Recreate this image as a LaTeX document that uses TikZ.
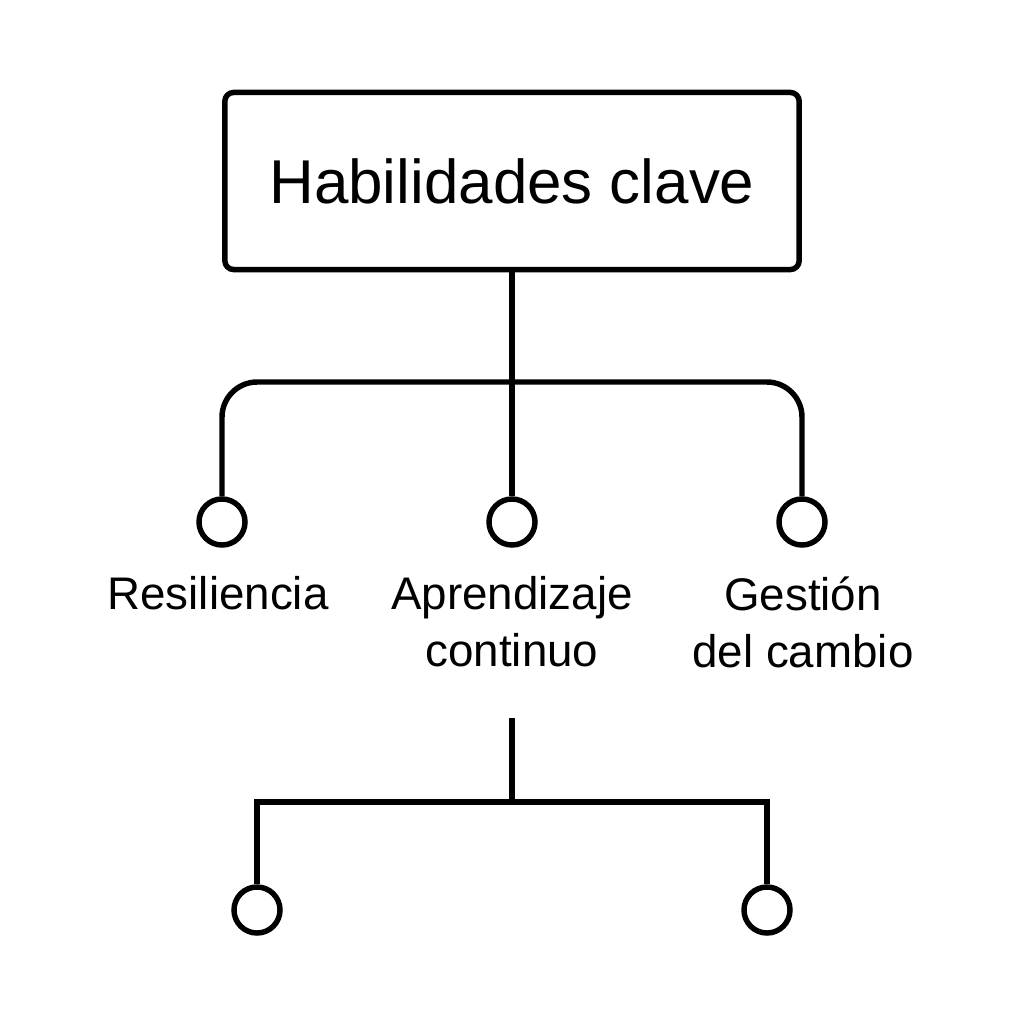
\documentclass[tikz,border=0pt]{standalone}
\usepackage{fontspec}
\setmainfont{Liberation Sans}
\usetikzlibrary{positioning}

\begin{document}
\begin{tikzpicture}[x=0.01cm, y=-0.01cm, line width=1.55pt,
    skillbox/.style={draw, rounded corners=2.5pt, minimum width=5.74cm, minimum height=1.77cm,
        font=\fontsize{17.6}{20}\selectfont},
    dot/.style={draw, circle, minimum size=0.46cm, inner sep=0pt},
    tag/.style={align=center, inner sep=0pt, anchor=north,
        font=\fontsize{13}{16.2}\selectfont}]
    \useasboundingbox (0,0) rectangle (1024,1024);

    % Top box
    \node[skillbox] (skills) at (512,181) {Habilidades clave};

    % First level
    \node[dot] (res) at (222,522) {};
    \node[dot] (apr) at (512,522) {};
    \node[dot] (ges) at (802,522) {};
    \coordinate (bar) at (512,382);
    \draw (skills) -- (apr);
    \draw[rounded corners=10pt] (res) |- (bar) -| (ges);

    \node[tag] (resl) at (218,574) {Resiliencia};
    \node[tag] (aprl) at (512,574) {Aprendizaje\\continuo};
    \node[tag] (gesl) at (803,574) {Gestión\\del cambio};

    % Second level
    \coordinate (sub) at (512,718);
    \coordinate (fork) at (512,802);
    \node[dot] (left) at (257,910) {};
    \node[dot] (right) at (767,910) {};
    \draw (sub) -- (fork);
    \draw (left) |- (fork) -| (right);
\end{tikzpicture}
\end{document}
